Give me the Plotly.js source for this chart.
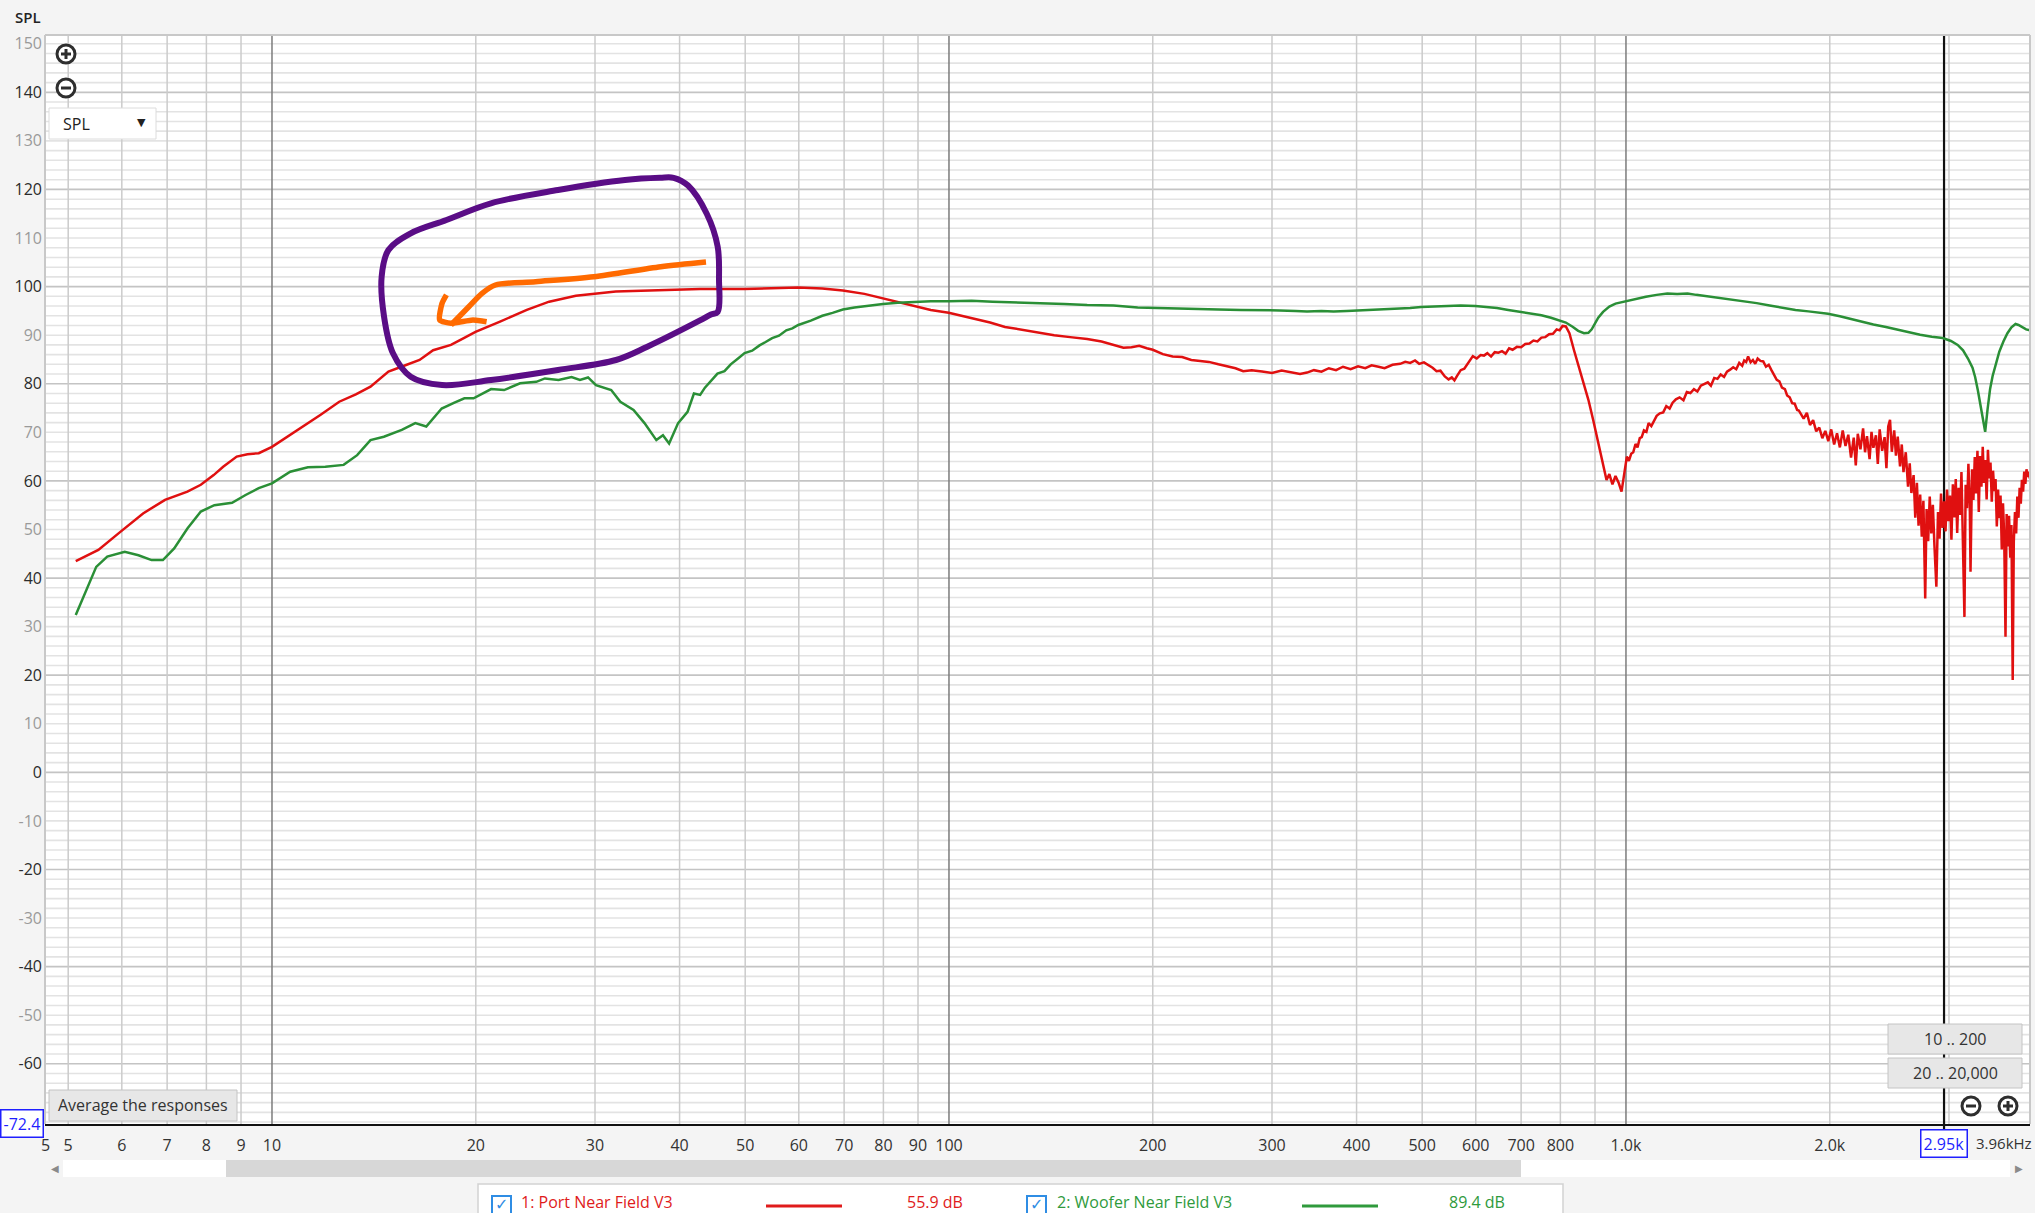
<!DOCTYPE html>
<html><head><meta charset="utf-8">
<script src="https://cdn.plot.ly/plotly-3.0.1.min.js"></script>
<style>html,body{margin:0;padding:0;background:#f4f4f4;overflow:hidden}</style>
</head><body><div id="chart" style="width:2035px;height:1213px"></div>
<script>
// ---------------- DATA ----------------
const portName = '1: Port Near Field V3';
const wooferName = '2: Woofer Near Field V3';
const portLevel = '55.9 dB';
const wooferLevel = '89.4 dB';

const portFreq = [5.13,5.54,5.97,6.45,6.95,7.5,7.85,8.2,8.47,8.87,9.2,9.56,10.0,10.5,11.13,11.8,12.57,13.3,13.98,14.86,15.6,16.52,17.3,18.38,19.2,19.98,21.72,23.79,25.67,28.11,32.2,36.96,42.9,49.9,55,59.9,65,69.7,75,79.9,84,88.9,94,99.9,
107,115,121,128,136,143,151,160,168,175,181,186,191,196,200,207,214,221,228,235,242,250,258,265,272,280,290,300,310,320,330,338,346,355,364,373,382,392,402,412,421,431,440,452,
464,472,480,488,495,503,510,518,525,532,540,547,553,558,563,570,577,585,594,602,610,617,624,632,640,648,656,664,672,680,690,700,710,720,730,740,750,760,770,780,790,798,806,815,825,838,850,865,880,895,911,925,936,945,955,965,976,985,993,
1003,1010,1018,1025,1033,1040,1048,1055,1063,1072,1080,1090,1100,1110,1122,1135,1147,1160,1172,1185,1200,1216,1230,1245,1260,1275,1290,1305,1321,1335,1350,1365,1380,1396,1410,1425,1440,1455,1470,1485,1495,1505,1515,1528,1540,1552,1565,1580,1595,1610,1625,1640,1655,1670,1685,1700,1717,1730,1745,1760,1775,1790,
1800,1830,1850,1870,1890,1910,1930,1950,1970,1990,2010,2030,2050,2070,2090,2110,2130,2150,2170,2185,2200,2220,2240,2255,2270,2290,2305,2320,2340,2355,2370,2390,2410,2425,2440,2455,2470,2490,2505,2520,2540,2555,2570,2590,2610,2625,2640,2660,2675,2690,2705,2720,2735,2750,2767,2780,2795,2810,2825,2840,2855,2874,2890,2905,2920,2935,2950,2965,2980,2995,3010,3025,3040,3055,3070,3085,3100,3115,3130,3145,3162,3175,3190,3205,3220,3228,3245,3260,3275,3290,3305,3320,3335,3350,3365,3380,3395,3410,3425,3440,3455,3470,3485,3500,3515,3530,3545,3560,3575,3590,3605,3620,3636,3650,3665,3680,3695,3710,3726,3740,3755,3770,3785,3800,3815,3830,3845,3860,3875,3890,3905,3920,3935,3950];
const portSpl = [43.5,45.8,49.5,53.3,56.1,57.8,59.2,61.2,62.9,65.0,65.5,65.7,67.0,68.9,71.2,73.6,76.3,77.8,79.4,82.5,83.6,84.9,86.9,88.0,89.4,90.7,92.8,95.2,96.9,98.1,99.0,99.3,99.5,99.5,99.6,99.8,99.6,99.2,98.5,97.6,96.8,96.0,95.2,94.6,
93.6,92.6,91.7,91.1,90.6,90.0,89.6,89.2,88.7,88.0,87.4,87.5,87.8,87.3,87.0,86.1,85.6,85.5,84.9,84.7,84.5,84.0,83.5,83.2,82.6,82.8,82.5,82.2,82.7,82.4,82.0,82.3,82.8,82.5,83.2,82.8,83.5,83.0,83.6,83.2,83.8,83.5,83.2,83.9,
84.1,84.5,84.3,84.8,84.1,84.4,83.9,83.3,82.6,82.7,81.5,80.9,81.3,80.7,81.6,82.8,83.1,84.4,85.7,85.2,85.9,85.8,86.3,85.6,86.5,86.4,86.7,86.2,87.3,87.0,87.6,87.5,88.2,88.3,88.9,88.7,89.5,89.6,90.2,90.3,91.2,91.0,91.9,91.8,90.4,86.9,84.0,80.5,76.7,72.4,67.7,63.4,60.2,61.4,59.3,61.0,59.5,57.8,61.4,
65.0,64.1,65.6,65.9,67.6,66.9,68.8,69.0,70.4,70.1,71.9,71.3,72.5,73.4,73.9,74.1,75.4,74.9,76.1,76.8,77.2,76.6,78.3,78.1,78.9,78.4,79.6,79.9,80.3,79.6,81.2,81.0,81.9,81.4,82.5,82.9,83.4,83.0,84.3,83.7,84.8,84.5,85.6,84.4,84.9,84.1,85.2,84.7,84.6,83.5,83.9,82.8,81.9,80.8,80.5,79.2,78.9,77.6,77.2,76.0,75.9,74.6,
74.5,72.8,74.0,71.5,72.5,70.2,71.0,68.8,70.3,68.2,70.6,67.5,69.8,66.9,70.4,67.2,69.5,64.8,68.9,63.2,69.7,66.5,70.8,65.9,69.2,64.5,70.1,66.8,69.4,63.5,70.6,66.2,69.0,62.6,71.2,72.6,66.0,70.4,65.2,69.1,63.0,67.5,61.8,65.9,58.8,63.6,57.5,61.2,52.4,59.6,50.8,57.2,48.5,55.9,35.8,54.2,47.6,56.8,49.2,55.1,46.8,38.2,53.6,48.1,57.4,50.3,55.8,49.6,58.2,51.7,57.0,47.9,59.3,52.5,60.4,49.3,58.6,53.0,61.8,46.5,32.0,59.2,54.4,63.5,55.2,41.3,62.4,56.1,64.9,57.4,66.2,53.6,65.1,58.8,67.0,59.6,64.3,56.2,66.4,60.5,63.8,55.7,62.1,57.9,60.4,50.6,58.2,52.3,57.0,45.9,55.4,48.6,27.9,53.2,46.5,52.8,44.2,50.9,19.0,47.5,53.6,49.2,56.8,52.4,58.6,55.3,60.2,57.8,61.9,59.4,62.4,60.8,61.9,60.5];

const wooferFreq = [5.13,5.5,5.71,6.06,6.35,6.64,6.9,7.17,7.5,7.85,8.22,8.73,9.14,9.56,10.0,10.64,11.3,11.99,12.76,13.36,13.98,14.63,15.55,16.28,16.9,17.81,18.6,19.24,19.85,21.07,22.02,23.25,24.57,25.3,26.5,27.7,28.5,29.3,30.1,31.7,32.7,34.2,35.5,36.96,37.8,38.6,39.8,41.1,42.0,42.9,43.6,44.4,45.5,46.6,47.6,48.8,49.9,51.2,52.5,53.6,54.8,56.1,57.5,58.7,59.9,62.5,65,67.3,69.7,72.5,75.9,79.9,84,88.9,94,99.9,108,116,124,135,148,160,175,190,200,215,232,250,270,290,308,325,338,355,370,387,405,425,445,464,480,498,520,545,570,599,620,645,670,698,725,750,775,797,815,835,850,867,880,890,898,910,925,945,965,993,1030,1070,1110,1151,1190,1233,1270,1320,1380,1440,1494,1560,1630,1700,1780,1860,1930,1988,2070,2150,2230,2320,2421,2520,2620,2720,2830,2937,3020,3090,3147,3200,3250,3279,3310,3340,3365,3393,3420,3450,3480,3512,3560,3610,3660,3710,3762,3800,3850,3900,3950];
const wooferSpl = [32.4,42.3,44.4,45.4,44.7,43.7,43.7,46.1,50.2,53.7,55.0,55.5,57.1,58.5,59.5,61.9,62.8,62.9,63.3,65.3,68.4,69.1,70.5,71.9,71.2,74.9,76.1,77.0,77.0,78.9,78.7,80.1,80.4,81.1,80.8,81.4,80.8,81.3,79.7,78.7,76.3,74.6,71.9,68.4,69.4,67.7,71.9,74.2,78.0,77.7,79.2,80.4,82.1,82.6,84.0,85.2,86.3,86.8,87.9,88.6,89.4,89.9,91.0,91.4,92.1,93.0,94.0,94.6,95.3,95.7,96.1,96.4,96.7,96.9,97.0,97.0,97.1,96.9,96.8,96.6,96.4,96.2,96.1,95.7,95.6,95.5,95.4,95.3,95.2,95.2,95.1,95.0,94.9,95.0,94.9,95.0,95.1,95.3,95.3,95.5,95.6,95.8,95.9,96.1,96.1,96.0,95.8,95.6,95.2,94.8,94.5,94.1,93.6,93.1,92.6,91.7,90.9,90.4,90.5,91.2,92.3,93.6,94.8,95.9,96.5,96.9,97.4,97.9,98.3,98.6,98.5,98.6,98.3,98.0,97.6,97.3,96.9,96.6,96.1,95.6,95.2,94.9,94.6,94.4,93.9,93.3,92.8,92.2,91.7,91.1,90.6,90.1,89.7,89.4,88.8,88.0,86.9,85.2,83.3,81.4,78.6,75.5,72.6,70.1,74.6,78.9,81.6,83.5,86.6,88.7,90.4,91.6,92.3,92.1,91.6,91.2,91.0];

// hand-drawn annotation strokes (frequency Hz, dB)
const annotLoopFreq = [37.42,33.22,26.45,21.06,18.10,16.03,14.86,14.52,14.64,15.09,16.03,17.83,21.06,26.45,32.22,35.84,42.87,44.50,45.53,45.74,45.53,43.89,41.17,39.20,37.42];
const annotLoopDb = [122.4,121.95,119.89,117.15,113.71,110.97,107.54,102.04,93.80,86.27,81.45,79.74,80.77,82.83,84.89,87.63,93.04,94.27,94.79,101.48,108.24,114.95,120.80,122.40,122.4];
const annotArrowFreq = [43.76,37.52,29.88,24.51,21.38,20.43,19.53,18.38];
const annotArrowDb = [105.07,104.10,102.04,101.01,100.33,98.62,95.86,92.09];
const annotHeadFreq = [18.10,17.83,17.69,18.38,19.81,20.75];
const annotHeadDb = [98.32,96.56,93.14,92.46,93.14,92.78];

// axes
const xTickVals = [4.63,5,6,7,8,9,10,20,30,40,50,60,70,80,90,100,200,300,400,500,600,700,800,900,1000,2000,3000];
const xTickText = ['5','5','6','7','8','9','10','20','30','40','50','60','70','80','90','100','200','300','400','500','600','700','800','','1.0k','2.0k',''];
const xGridVals = [5,6,7,8,9,20,30,40,50,60,70,80,90,200,300,400,500,600,700,800,900,2000,3000];
const xDecades = [10,100,1000];
const cursorFreq = 2950;
const cursorLabel = '2.95k';
const xEndLabel = '3.96kHz';
const yTickVals = [150,140,130,120,110,100,90,80,70,60,50,40,30,20,10,0,-10,-20,-30,-40,-50,-60];
const yMajorGrid = [140,120,100,80,60,40,20,0,-20,-40,-60];
const yBottomLabel = '-72.4';

// ---------------- LAYOUT HELPERS ----------------
const W = 2035, H = 1213, L = 45, R = 2030, T = 35, B = 1124;
const px = x => (x - L) / (R - L);
const py = y => (B - y) / (B - T);
const FONT = 'Open Sans, Noto Sans, sans-serif';

const yTickText = yTickVals.map(v => (v % 20 === 0)
  ? '<span style="color:#2b2b2b">' + v + '</span>'
  : '<span style="color:#9a9a9a">' + v + '</span>');

const shapes = [];
// light 2-dB horizontal grid
for (let v = -72; v <= 150; v += 2) {
  if (v % 20 !== 0) shapes.push({type:'line', xref:'paper', yref:'y', x0:0, x1:1, y0:v, y1:v, line:{color:'#e3e3e3', width:1.6}, layer:'below'});
}
// darker horizontal 20-dB lines
yMajorGrid.forEach(v => shapes.push({type:'line', xref:'paper', yref:'y', x0:0, x1:1, y0:v, y1:v, line:{color:'#c4c4c4', width:1.7}, layer:'below'}));
// vertical light grid
xGridVals.forEach(v => shapes.push({type:'line', xref:'x', yref:'paper', x0:v, x1:v, y0:0, y1:1, line:{color:'#cbcbcb', width:1.5}, layer:'below'}));
// decade lines
xDecades.forEach(v => shapes.push({type:'line', xref:'x', yref:'paper', x0:v, x1:v, y0:0, y1:1, line:{color:'#7c7c7c', width:1.5}, layer:'below'}));
// cursor
shapes.push({type:'line', xref:'x', yref:'paper', x0:cursorFreq, x1:cursorFreq, y0:-0.006, y1:1, line:{color:'#111', width:2.2}, layer:'below'});
// frame
shapes.push({type:'line', xref:'paper', yref:'paper', x0:0, x1:1, y0:1, y1:1, line:{color:'#c8c8c8', width:2}});
shapes.push({type:'line', xref:'paper', yref:'paper', x0:0, x1:0, y0:0, y1:1, line:{color:'#c8c8c8', width:2}});
shapes.push({type:'line', xref:'paper', yref:'paper', x0:1, x1:1, y0:0, y1:1, line:{color:'#c8c8c8', width:2}});

function rectPx(x0, y0, x1, y1, fill, line, lw) {
  shapes.push({type:'rect', xref:'paper', yref:'paper', x0:px(x0), x1:px(x1), y0:py(y1), y1:py(y0),
    fillcolor:fill, line:{color:line, width:lw === undefined ? 1 : lw}});
}
function linePx(x0, y0, x1, y1, color, lw) {
  shapes.push({type:'line', xref:'paper', yref:'paper', x0:px(x0), x1:px(x1), y0:py(y0), y1:py(y1), line:{color:color, width:lw}});
}
function zoomIcon(cx, cy, plus) {
  const r = 9;
  shapes.push({type:'circle', xref:'paper', yref:'paper', x0:px(cx-r), x1:px(cx+r), y0:py(cy+r), y1:py(cy-r),
    fillcolor:'#ffffff', line:{color:'#2e2e2e', width:3}});
  linePx(cx-5, cy, cx+5, cy, '#2e2e2e', 3);
  if (plus) linePx(cx, cy-5, cx, cy+5, '#2e2e2e', 3);
}

// UI widgets
zoomIcon(66, 54, true);
zoomIcon(66, 88, false);
rectPx(49, 108, 156, 139, '#ffffff', '#dcdcdc', 1);
rectPx(49, 1090, 237, 1121, '#e7e7e7', '#c4c4c4', 1);
rectPx(1888, 1024, 2022, 1054, '#e7e7e7', '#c4c4c4', 1);
rectPx(1888, 1058, 2022, 1088, '#e7e7e7', '#c4c4c4', 1);
zoomIcon(1971, 1106, false);
zoomIcon(2008, 1106, true);
// scrollbar
rectPx(63, 1160, 2010, 1177, '#ffffff', '#ffffff', 0);
rectPx(226, 1160, 1521, 1177, '#d7d7d7', '#d7d7d7', 0);
// legend panel
rectPx(478, 1184, 1563, 1240, '#ffffff', '#d2d2d2', 1.5);
rectPx(492, 1196, 511, 1215, '#ffffff', '#2f8de4', 2);
rectPx(1027, 1196, 1046, 1215, '#ffffff', '#2f8de4', 2);
linePx(766, 1206, 842, 1206, '#e01b1b', 3);
linePx(1302, 1206, 1378, 1206, '#2f9a3c', 3);

const ann = [];
function textPx(x, y, text, opts) {
  ann.push(Object.assign({xref:'paper', yref:'paper', x:px(x), y:py(y), text:text, showarrow:false,
    xanchor:'left', yanchor:'middle', font:{family:FONT, size:16, color:'#333'}}, opts || {}));
}
textPx(13, 17, 'SPL', {font:{family:FONT, size:15, color:'#222', weight:600}});
textPx(61, 124, 'SPL', {font:{family:FONT, size:16, color:'#222'}});
textPx(141, 123, '▼', {xanchor:'center', font:{family:'DejaVu Sans', size:11, color:'#222'}});
textPx(143, 1105, 'Average the responses', {xanchor:'center', font:{family:FONT, size:16, color:'#333'}});
textPx(1955, 1039, '10 .. 200', {xanchor:'center', font:{family:FONT, size:16, color:'#333'}});
textPx(1955, 1073, '20 .. 20,000', {xanchor:'center', font:{family:FONT, size:16, color:'#333'}});
textPx(22, 1123, yBottomLabel, {xanchor:'center', bordercolor:'#1f1fff', borderwidth:1.5, borderpad:2, bgcolor:'#ffffff', font:{family:FONT, size:16, color:'#1f1fff'}});
textPx(2034, 1143, xEndLabel, {xanchor:'right', font:{family:FONT, size:15, color:'#333'}});
textPx(55, 1168, '◀', {xanchor:'center', font:{family:'DejaVu Sans', size:10, color:'#8a8a8a'}});
textPx(2019, 1168, '▶', {xanchor:'center', font:{family:'DejaVu Sans', size:10, color:'#8a8a8a'}});
textPx(501, 1204, '✓', {xanchor:'center', font:{family:'DejaVu Sans', size:16, color:'#2f8de4'}});
textPx(1036, 1204, '✓', {xanchor:'center', font:{family:'DejaVu Sans', size:16, color:'#2f8de4'}});
textPx(519, 1202, portName, {font:{family:FONT, size:16, color:'#e01b1b'}});
textPx(905, 1202, portLevel, {font:{family:FONT, size:16, color:'#e01b1b'}});
textPx(1055, 1202, wooferName, {font:{family:FONT, size:16, color:'#2f9a3c'}});
textPx(1447, 1202, wooferLevel, {font:{family:FONT, size:16, color:'#2f9a3c'}});
// cursor label on axis (log axis annotation uses log10 x)
ann.push({xref:'x', yref:'paper', x:Math.log10(cursorFreq), y:py(1143), text:cursorLabel, showarrow:false,
  xanchor:'center', yanchor:'middle', bordercolor:'#1f1fff', borderwidth:1.5, borderpad:2, bgcolor:'#ffffff',
  font:{family:FONT, size:16, color:'#1f1fff'}});

const traces = [
  {x:portFreq, y:portSpl, type:'scatter', mode:'lines', name:portName, line:{color:'#e01010', width:2.5}},
  {x:wooferFreq, y:wooferSpl, type:'scatter', mode:'lines', name:wooferName, line:{color:'#2a8f36', width:2.5}},
  {x:annotLoopFreq, y:annotLoopDb, type:'scatter', mode:'lines', name:'loop', line:{color:'#5a0d86', width:6, shape:'spline', smoothing:1}},
  {x:annotArrowFreq, y:annotArrowDb, type:'scatter', mode:'lines', name:'arrow', line:{color:'#ff6a00', width:5.5, shape:'spline', smoothing:0.8}},
  {x:annotHeadFreq, y:annotHeadDb, type:'scatter', mode:'lines', name:'arrowhead', line:{color:'#ff6a00', width:5.5, shape:'spline', smoothing:0.6}}
];

const layout = {
  width:W, height:H,
  margin:{l:L, r:W-R, t:T, b:H-B, pad:0},
  paper_bgcolor:'#f4f4f4', plot_bgcolor:'#ffffff',
  showlegend:false,
  xaxis:{type:'log', range:[0.6647, 3.5968], tickmode:'array', tickvals:xTickVals, ticktext:xTickText,
    showgrid:false, zeroline:false, ticks:'', showline:true, linecolor:'#111', linewidth:2,
    tickfont:{family:FONT, size:16, color:'#333'}, ticklabelstandoff:6, fixedrange:true},
  yaxis:{range:[-72.4, 151.8], tickmode:'array', tickvals:yTickVals, ticktext:yTickText,
    showgrid:false, zeroline:false, ticks:'', showline:false,
    tickfont:{family:FONT, size:16, color:'#333'}, ticklabelstandoff:2, fixedrange:true},
  shapes:shapes,
  annotations:ann
};

Plotly.newPlot('chart', traces, layout, {displayModeBar:false, staticPlot:true});
</script>
</body></html>
